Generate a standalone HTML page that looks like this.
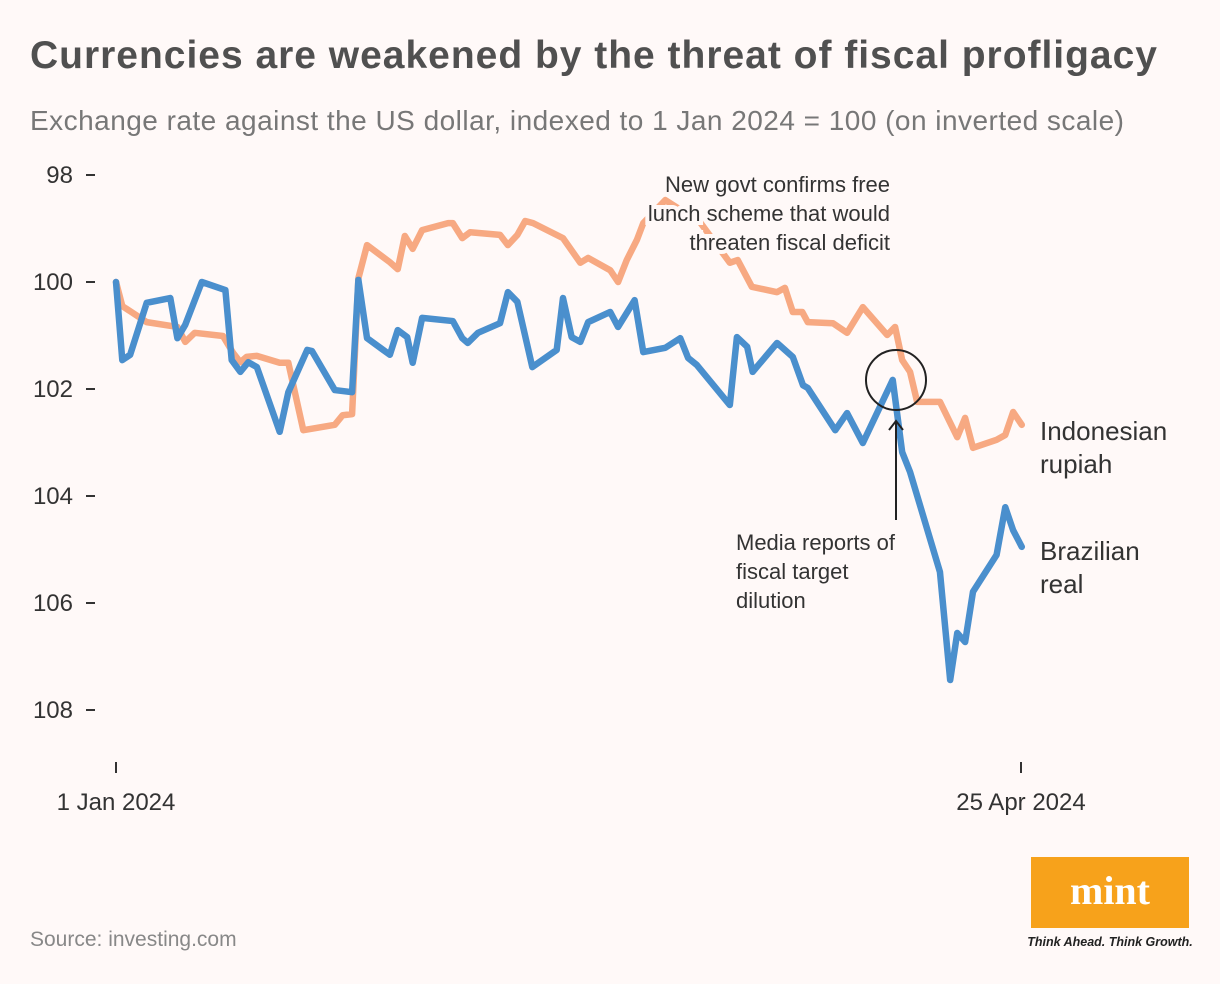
<!DOCTYPE html>
<html><head><meta charset="utf-8"><style>
body{margin:0;background:#fff9f8;}
svg{display:block;font-family:"Liberation Sans",sans-serif;}
</style></head><body>
<svg width="1220" height="984">
<rect width="1220" height="984" fill="#fff9f8"/>
<text x="30" y="68" font-size="39" font-weight="bold" fill="#505050" textLength="1127" lengthAdjust="spacing">Currencies are weakened by the threat of fiscal profligacy</text>
<text x="30" y="130" font-size="28" fill="#777" textLength="1094" lengthAdjust="spacing">Exchange rate against the US dollar, indexed to 1 Jan 2024 = 100 (on inverted scale)</text>
<g id="axes"></g>
<g id="series"></g>
<g id="annot" font-size="22" fill="#333">
<text x="890" y="192" text-anchor="end" stroke="#fff9f8" stroke-width="8" paint-order="stroke"><tspan x="890">New govt confirms free</tspan><tspan x="890" dy="29">lunch scheme that would</tspan><tspan x="890" dy="29">threaten fiscal deficit</tspan></text>
<circle cx="896" cy="380" r="30" fill="none" stroke="#222" stroke-width="2"/>
<line x1="896" y1="520" x2="896" y2="422" stroke="#222" stroke-width="2"/>
<polyline points="889,430 896,421 903,430" fill="none" stroke="#222" stroke-width="2"/>
<text x="736" y="550"><tspan x="736">Media reports of</tspan><tspan x="736" dy="29">fiscal target</tspan><tspan x="736" dy="29">dilution</tspan></text>
<text x="1040" y="440" font-size="26" fill="#333"><tspan x="1040">Indonesian</tspan><tspan x="1040" dy="33">rupiah</tspan></text>
<text x="1040" y="560" font-size="26" fill="#333"><tspan x="1040">Brazilian</tspan><tspan x="1040" dy="33">real</tspan></text>
</g>
<text x="30" y="946" font-size="21" fill="#888">Source: investing.com</text>
<rect x="1031" y="857" width="158" height="71" fill="#f7a21b"/>
<text x="1110" y="904" text-anchor="middle" font-family="Liberation Serif,serif" font-weight="bold" font-size="40" fill="#fff">mint</text>
<text x="1110" y="946" text-anchor="middle" font-size="12.5" font-style="italic" font-weight="bold" fill="#222">Think Ahead. Think Growth.</text>
</svg>
<script>
const yTicks=[98,100,102,104,106,108];
const xTickDays=[0,115];
const xTickLabels=["1 Jan 2024","25 Apr 2024"];
const idrDays=[0,0.8,3.9,7.8,8.8,10,13.6,14.9,15.8,16.6,17.9,20.8,21.9,23.8,27.8,28.8,30,30.8,31.9,34.8,35.8,36.7,37.7,38.9,42.2,42.8,44,45,48.8,49.8,51,52,53,56.8,59,60,62.8,63.8,64.9,66.2,67,69.8,74.2,78,79,80.8,84,85,86,87.2,87.9,91.1,92.9,94.9,98,99,99.9,100.9,101.8,104.7,106.9,107.9,108.9,111.9,113,114,115.1];
const idrValues=[100,100.45,100.75,100.84,101.12,100.95,101.01,101.33,101.5,101.4,101.38,101.51,101.51,102.77,102.67,102.49,102.47,99.93,99.31,99.63,99.76,99.14,99.38,99.03,98.9,98.9,99.18,99.07,99.12,99.31,99.12,98.86,98.9,99.18,99.64,99.55,99.78,100,99.59,99.21,98.9,98.47,98.88,99.64,99.59,100.09,100.19,100.11,100.56,100.56,100.75,100.77,100.95,100.47,100.99,100.84,101.46,101.68,102.24,102.24,102.9,102.54,103.1,102.95,102.86,102.43,102.67];
const brlDays=[0,0.8,1.8,3.9,6.9,7.8,8.8,10.9,13.9,14.7,15.8,16.8,17.9,20.8,21.9,24.3,24.9,27.8,30,30.8,31.9,34.8,35.8,37,37.7,38.9,42.8,44,44.7,46,48.8,49.8,51,52.9,56,56.8,57.9,59,60,62.8,63.8,65.9,67,69.8,71.7,72.7,73.8,78,78.9,80.2,80.9,84,86,87.3,87.9,91.4,92.9,94.9,98.7,99.9,100.9,104.7,106,106.9,107.9,108.9,111.9,113,114,115.1];
const brlValues=[100,101.46,101.36,100.39,100.3,101.05,100.8,100,100.15,101.46,101.68,101.5,101.59,102.8,102.06,101.27,101.29,102.02,102.06,99.96,101.05,101.36,100.9,101.03,101.51,100.67,100.73,101.05,101.14,100.95,100.77,100.19,100.37,101.59,101.27,100.3,101.03,101.12,100.75,100.56,100.84,100.34,101.31,101.23,101.05,101.42,101.55,102.3,101.03,101.21,101.68,101.14,101.4,101.93,101.98,102.77,102.45,103.01,101.83,103.18,103.55,105.42,107.44,106.56,106.73,105.79,105.1,104.21,104.64,104.95];
const NS="http://www.w3.org/2000/svg";
const xS=d=>116+d*(1021-116)/115;
const yS=v=>282+(v-100)*53.5;
const axes=document.getElementById('axes'),ser=document.getElementById('series');
function mk(t,a,p){const e=document.createElementNS(NS,t);for(const k in a)e.setAttribute(k,a[k]);p.appendChild(e);return e;}
yTicks.forEach(v=>{
 const t=mk('text',{x:73,y:yS(v)+8,'text-anchor':'end','font-size':24,fill:'#333'},axes);t.textContent=v;
 
 
 mk('line',{x1:86,x2:95,y1:yS(v),y2:yS(v),stroke:'#333','stroke-width':2},axes);
});
xTickDays.forEach((d,i)=>{
 mk('line',{x1:xS(d),x2:xS(d),y1:762,y2:773,stroke:'#333','stroke-width':2},axes);
 const t=mk('text',{x:xS(d),y:810,'text-anchor':'middle','font-size':24,fill:'#333'},axes);t.textContent=xTickLabels[i];
 
 
});
function line(days,vals,col,name){
 const p=mk('polyline',{points:days.map((d,i)=>xS(d)+','+yS(vals[i])).join(' '),fill:'none',stroke:col,'stroke-width':6.5,'stroke-linejoin':'round','stroke-linecap':'round'},ser);
 
 
}
line(idrDays,idrValues,'#f7a982','line-indonesian-rupiah');
line(brlDays,brlValues,'#4a8fcd','line-brazilian-real');
</script>
</body></html>
